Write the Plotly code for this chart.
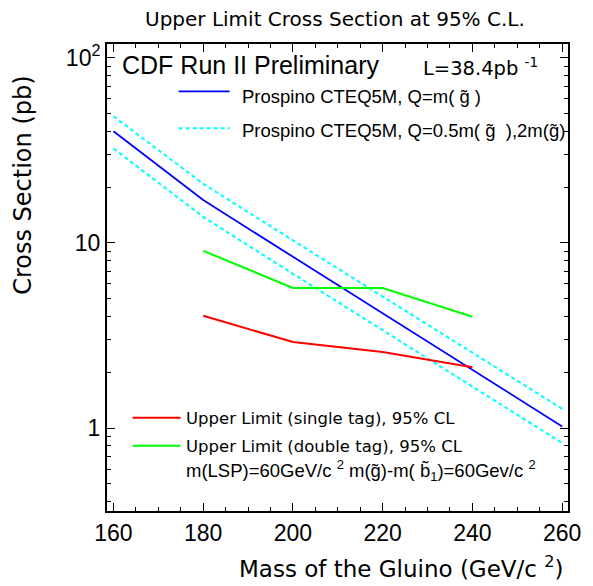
import plotly.graph_objects as go

# ---- data ----
mass = [160, 180, 200, 220, 240, 260]
prospino_central = [40.0, 17.0, 8.4, 4.17, 2.06, 1.02]
prospino_high = [48.2, 20.8, 10.3, 5.1, 2.55, 1.27]
prospino_low = [32.3, 13.8, 6.8, 3.38, 1.67, 0.83]

limit_mass = [180, 200, 220, 240]
limit_single = [4.04, 2.91, 2.57, 2.13]
limit_double = [9.05, 5.7, 5.7, 3.99]

x_ticks = [160, 180, 200, 220, 240, 260]
y_ticks = [1, 10, 100]
y_ticktext = ["1", "10", "10<sup>2</sup>"]

# ---- layout geometry (reference pixels) ----
W, H = 593, 586
OFF = 8  # default body margin of the html page
L, R, T, B = 107, 577, 43.5, 511.5
ARIAL = "Liberation Sans, Arial, Helvetica, sans-serif"
WIDE = "DejaVu Sans, Verdana, sans-serif"
NB = "\u00a0"


def px(x):
    return (x - L) / (R - L)


def py(y):
    return (B - y) / (B - T)


fig = go.Figure()
cyan_line = dict(color="#00ffff", width=2, dash="4px,3px")
fig.add_trace(go.Scatter(x=mass, y=prospino_high, mode="lines", line=cyan_line))
fig.add_trace(go.Scatter(x=mass, y=prospino_low, mode="lines", line=cyan_line))
fig.add_trace(go.Scatter(x=mass, y=prospino_central, mode="lines",
                         line=dict(color="#0000ff", width=1.8)))
fig.add_trace(go.Scatter(x=limit_mass, y=limit_double, mode="lines",
                         line=dict(color="#00ff00", width=2)))
fig.add_trace(go.Scatter(x=limit_mass, y=limit_single, mode="lines",
                         line=dict(color="#ff0000", width=2)))

minor_y = [v * 10 ** e for e in (-1, 0, 1, 2) for v in range(2, 10)]

fig.update_layout(
    width=W - OFF, height=H - OFF,
    margin=dict(l=L - OFF, r=W - R, t=T - OFF, b=H - B),
    paper_bgcolor="white", plot_bgcolor="white",
    showlegend=False,
    font=dict(family=ARIAL, color="black"),
    xaxis=dict(range=[158.56, 261.3], tickvals=x_ticks,
               ticks="inside", ticklen=8, tickwidth=1, tickcolor="black",
               mirror="ticks", showline=True, linewidth=2, linecolor="black",
               showgrid=False, zeroline=False,
               tickfont=dict(size=23, family=ARIAL),
               minor=dict(dtick=5, ticks="inside", ticklen=4, tickcolor="black", showgrid=False)),
    yaxis=dict(type="log", range=[-0.448, 2.073], tickvals=y_ticks, ticktext=y_ticktext,
               ticks="inside", ticklen=8, tickwidth=1, tickcolor="black",
               mirror="ticks", showline=True, linewidth=2, linecolor="black",
               showgrid=False, zeroline=False,
               tickfont=dict(size=23, family=ARIAL),
               minor=dict(tickvals=minor_y, ticks="inside", ticklen=4, tickcolor="black", showgrid=False)),
)

ann = []


def text(x, y, s, size, family=ARIAL, xanchor="left", yanchor="middle", angle=0):
    ann.append(dict(x=px(x), y=py(y), xref="paper", yref="paper", text=s, showarrow=False,
                    xanchor=xanchor, yanchor=yanchor, textangle=angle, borderpad=0,
                    font=dict(size=size, family=family, color="black")))


text(339, 18, "Upper Limit Cross Section at 95% C.L.", 20, family=WIDE, xanchor="center")
text(121, 65, "CDF Run II Preliminary", 25)
text(428, 67, "L=38.4pb <sup>-1</sup>", 19.5, family=WIDE)
text(244, 96, "Prospino CTEQ5M, Q=m( g\u0303 )", 18.5)
text(244, 130, "Prospino CTEQ5M, Q=0.5m( g\u0303 " + NB + "),2m(g\u0303)", 18.5)
text(187, 418.5, "Upper Limit (single tag), 95% CL", 16.5, family=WIDE)
text(187, 446.5, "Upper Limit (double tag), 95% CL", 16.5, family=WIDE)
text(187, 471, "m(LSP)=60GeV/c <sup>2</sup> m(g\u0303)-m( b\u0303<sub>1</sub>)=60Gev/c <sup>2</sup>", 18.5)
text(574, 568, "Mass of the Gluino (GeV/c <sup>2</sup>)", 23, family=WIDE, xanchor="right")
text(22, 185, "Cross Section (pb)", 24, family=WIDE, xanchor="center", angle=-90)
fig.update_layout(annotations=ann)

shapes = [
    dict(type="line", xref="paper", yref="paper", x0=px(180), x1=px(232), y0=py(91), y1=py(91),
         line=dict(color="#0000ff", width=1.8)),
    dict(type="line", xref="paper", yref="paper", x0=px(180), x1=px(232), y0=py(128), y1=py(128),
         line=cyan_line),
    dict(type="line", xref="paper", yref="paper", x0=px(133), x1=px(182), y0=py(418), y1=py(418),
         line=dict(color="#ff0000", width=2)),
    dict(type="line", xref="paper", yref="paper", x0=px(133), x1=px(182), y0=py(446), y1=py(446),
         line=dict(color="#00ff00", width=2)),
]
fig.update_layout(shapes=shapes)

fig.write_html("out.html")
